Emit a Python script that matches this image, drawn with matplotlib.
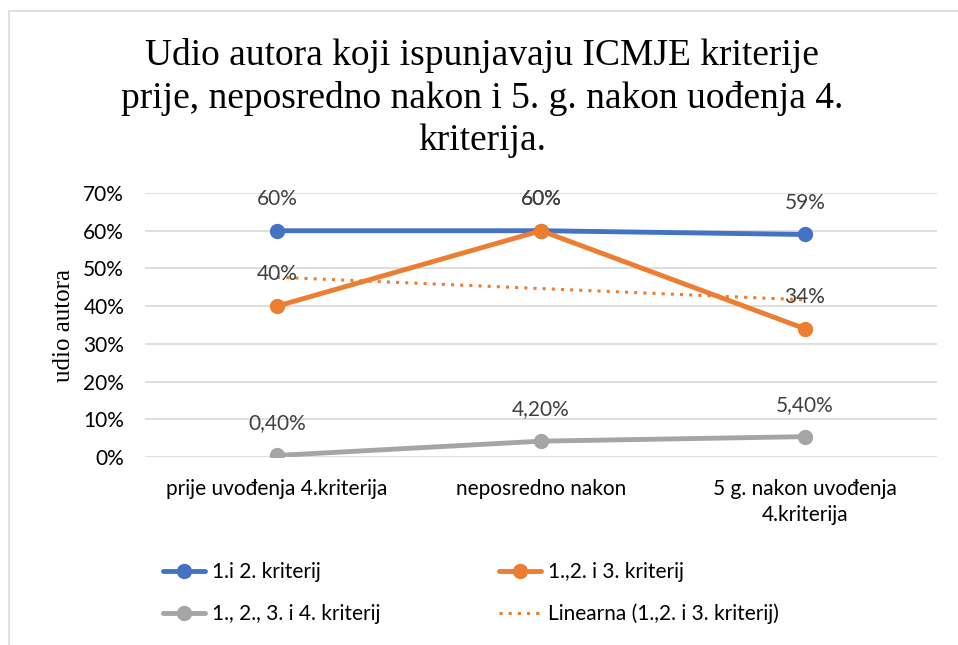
import numpy as np
import matplotlib
matplotlib.use("Agg")
import matplotlib.pyplot as plt
from matplotlib.patches import Rectangle

categories = ["prije uvođenja 4.kriterija", "neposredno nakon", "5 g. nakon uvođenja\n4.kriterija"]
s12 = [0.60, 0.60, 0.59]
s123 = [0.40, 0.60, 0.34]
s1234 = [0.004, 0.042, 0.054]
lab12 = ["60%", "60%", "59%"]
lab123 = ["40%", "60%", "34%"]
lab1234 = ["0,40%", "4,20%", "5,40%"]
names = ["1.i 2. kriterij", "1.,2. i 3. kriterij", "1., 2., 3. i 4. kriterij", "Linearna (1.,2. i 3. kriterij)"]
yticks = [0, 0.1, 0.2, 0.3, 0.4, 0.5, 0.6, 0.7]
ylabels = ["0%", "10%", "20%", "30%", "40%", "50%", "60%", "70%"]

blue = "#4472C4"
orange = "#ED7D31"
gray = "#A5A5A5"
sans = ["Lato", "DejaVu Sans"]
serif = ["Liberation Serif", "DejaVu Serif"]
fs = 15

W, H = 958, 645
fig = plt.figure(figsize=(W / 100, H / 100), dpi=100)
fig.patches.append(Rectangle((8.5 / W, -0.1), 1.1, (H - 11) / H + 0.1, transform=fig.transFigure,
                             fill=False, edgecolor="#D9D9D9", linewidth=1.2))

ax = fig.add_axes([145 / W, (H - 457) / H, (937 - 145) / W, (457 - 193) / H])
x = np.arange(len(categories))
ax.set_xlim(-0.5, len(categories) - 0.5)
ax.set_ylim(0, 0.7)
ax.set_yticks(yticks)
ax.set_yticklabels(ylabels, fontsize=fs, family=sans, color="#000000")
ax.set_xticks(x)
ax.set_xticklabels(categories, fontsize=fs, family=sans, color="#000000", linespacing=1.35)
ax.tick_params(length=0)
ax.tick_params(axis="y", pad=15)
ax.tick_params(axis="x", pad=16)
for sp in ax.spines.values():
    sp.set_visible(False)
ax.grid(axis="y", color="#D9D9D9", linewidth=1.2)
ax.set_axisbelow(True)
ax.set_ylabel("udio autora", fontsize=18, family=serif, labelpad=6)

fit = np.polyfit(x, s123, 1)
trend = np.polyval(fit, x)

l1, = ax.plot(x, s12, color=blue, lw=3.5, marker="o", ms=10, zorder=3, solid_capstyle="round")
l2, = ax.plot(x, s123, color=orange, lw=3.5, marker="o", ms=10, zorder=4, solid_capstyle="round")
l3, = ax.plot(x, s1234, color=gray, lw=3.5, marker="o", ms=10, zorder=3, solid_capstyle="round")
l4, = ax.plot(x, trend, color=orange, lw=2.2, linestyle=(0, (1, 2)), zorder=2)

for vals, labs in [(s12, lab12), (s123, lab123), (s1234, lab1234)]:
    for xi, v, t in zip(x, vals, labs):
        ax.annotate(t, (xi, v), xytext=(0, 23), textcoords="offset points", ha="center",
                    va="center", fontsize=fs, family=sans, color="#404040", zorder=5)

fig.text(482 / W, 1 - 98 / H, "Udio autora koji ispunjavaju ICMJE kriterije\nprije, neposredno nakon i 5. g. nakon uođenja 4.\nkriterija.",
         ha="center", va="center", fontsize=27, family=serif, linespacing=1.28)

# row-major order like the original: blue, orange / gray, trend
handles = [l1, l3, l2, l4]
labels = [names[0], names[2], names[1], names[3]]
leg = fig.legend(handles, labels, loc="upper left", bbox_to_anchor=(163 / W, 1 - 562 / H), ncol=2,
                 frameon=False, prop={"family": sans, "size": fs}, handlelength=2.0, borderpad=0,
                 borderaxespad=0, columnspacing=5.7, labelspacing=1.05, handletextpad=0.35)

fig.savefig("out.png", dpi=100)
